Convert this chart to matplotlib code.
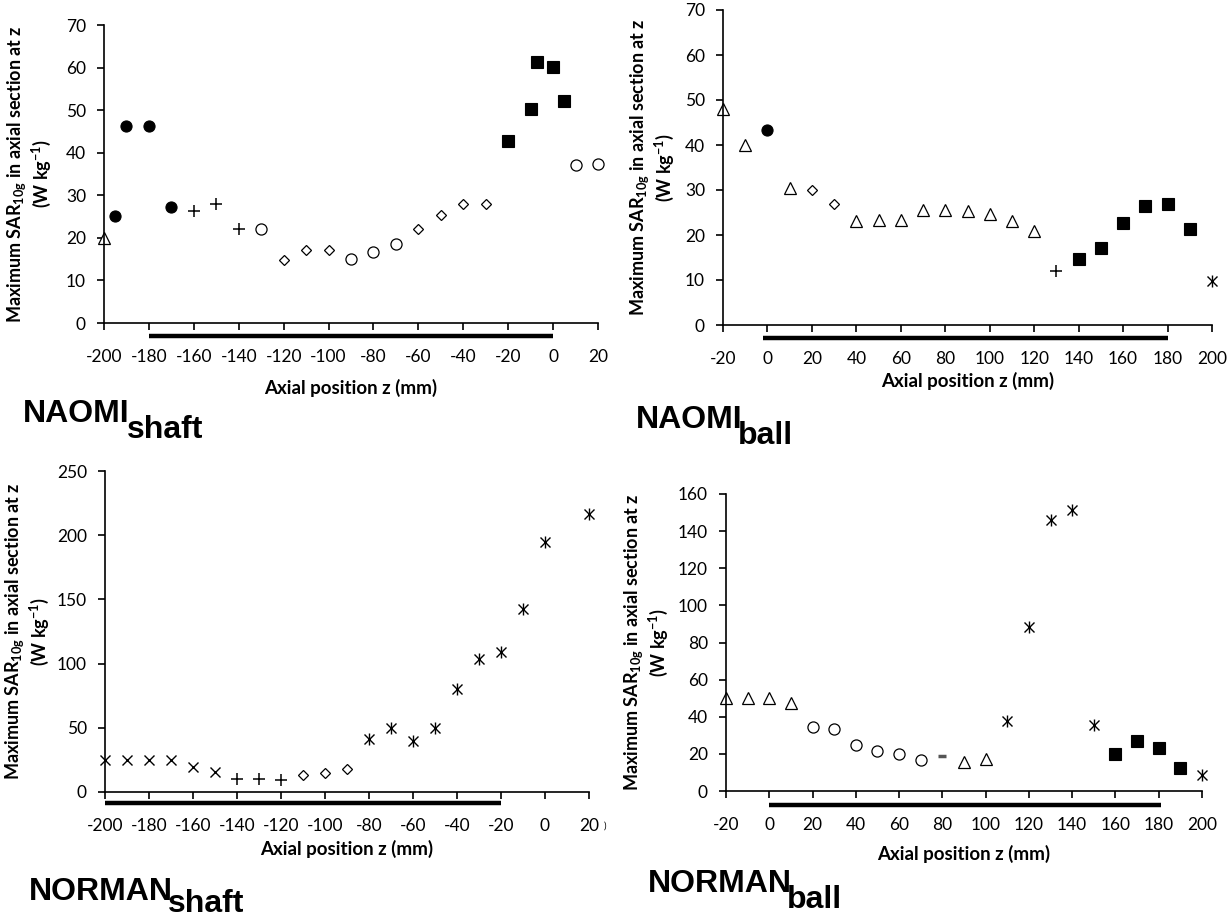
import numpy as np
import matplotlib
matplotlib.use('Agg')
import matplotlib.pyplot as plt
import matplotlib.transforms as mtransforms

plt.rcParams['font.family'] = ['Lato', 'DejaVu Sans']
plt.rcParams['axes.unicode_minus'] = False
plt.rcParams['mathtext.fontset'] = 'custom'
plt.rcParams['mathtext.bf'] = 'Lato:bold'
plt.rcParams['mathtext.rm'] = 'Lato'
plt.rcParams['mathtext.default'] = 'bf'

# ---- NAOMI shaft ----
ns_tri_x = [-200]
ns_tri_y = [20.0]
ns_fcirc_x = [-195, -190, -180, -170]
ns_fcirc_y = [25.2, 46.3, 46.3, 27.2]
ns_plus_x = [-160, -150, -140]
ns_plus_y = [26.4, 28.0, 22.1]
ns_ocirc_x = [-130, -90, -80, -70, 10, 20]
ns_ocirc_y = [22.1, 15.0, 16.6, 18.5, 37.0, 37.4]
ns_diam_x = [-120, -110, -100, -60, -50, -40, -30]
ns_diam_y = [14.8, 17.1, 17.1, 22.1, 25.3, 28.0, 28.0]
ns_sq_x = [-20, -10, -7, 0, 5]
ns_sq_y = [42.8, 50.3, 61.2, 60.1, 52.2]

# ---- NAOMI ball ----
nb_tri_x = [-20, -10, 10, 40, 50, 60, 70, 80, 90, 100, 110, 120]
nb_tri_y = [47.9, 39.9, 30.5, 23.1, 23.3, 23.3, 25.6, 25.6, 25.3, 24.7, 23.1, 21.0]
nb_fcirc_x = [0]
nb_fcirc_y = [43.3]
nb_diam_x = [20, 30]
nb_diam_y = [30.0, 27.0]
nb_plus_x = [130]
nb_plus_y = [12.1]
nb_sq_x = [140, 150, 160, 170, 180, 190]
nb_sq_y = [14.6, 17.1, 22.7, 26.4, 27.0, 21.4]
nb_ast_x = [200]
nb_ast_y = [9.8]

# ---- NORMAN shaft ----
rs_x_x = [-200, -190, -180, -170, -160, -150]
rs_x_y = [25.2, 25.2, 25.2, 24.7, 19.7, 15.6]
rs_plus_x = [-140, -130, -120]
rs_plus_y = [9.9, 9.9, 9.3]
rs_diam_x = [-110, -100, -90]
rs_diam_y = [13.5, 15.1, 17.7]
rs_ast_x = [-80, -70, -60, -50, -40, -30, -20, -10, 0, 20]
rs_ast_y = [41.3, 50.1, 40.0, 50.1, 80.2, 103.3, 109.0, 142.3, 194.7, 216.8]

# ---- NORMAN ball ----
rb_tri_x = [-20, -10, 0, 10, 90, 100]
rb_tri_y = [50.3, 50.3, 50.3, 47.6, 15.6, 17.1]
rb_ocirc_x = [20, 30, 40, 50, 60, 70]
rb_ocirc_y = [34.7, 33.4, 24.6, 21.4, 19.8, 16.7]
rb_dash_x = [80]
rb_dash_y = [18.9]
rb_ast_x = [110, 120, 130, 140, 150, 200]
rb_ast_y = [37.8, 88.4, 145.8, 151.4, 35.4, 8.6]
rb_sq_x = [160, 170, 180, 190]
rb_sq_y = [19.8, 27.1, 23.2, 12.2]

styles = {
    'fcirc': dict(marker='o', ms=8, mfc='black', mec='black', mew=0.8),
    'ocirc': dict(marker='o', ms=8, mfc='white', mec='black', mew=0.9),
    'tri': dict(marker='^', ms=8, mfc='white', mec='black', mew=0.9),
    'diam': dict(marker='D', ms=5.6, mfc='white', mec='black', mew=0.9),
    'plus': dict(marker='+', ms=8.5, mec='black', mew=1.1),
    'sq': dict(marker='s', ms=8, mfc='black', mec='black', mew=0.8),
    'x': dict(marker='x', ms=7.5, mec='black', mew=1.0),
    'dash': dict(marker='_', ms=6, mec='#555555', mew=2.5),
}

W, H = 1228, 917
fig = plt.figure(figsize=(W / 100, H / 100), dpi=100)


def px_rect(l, r, b, t):
    return [l / W, 1 - b / H, (r - l) / W, (b - t) / H]


def panel(rect, xlim, ylim, ystep, series, bar, bar_off, xlab_y, ylab_x):
    ax = fig.add_axes(rect)
    for xs, ys, st in series:
        if st == 'ast':
            ax.plot(xs, ys, ls='none', marker='x', ms=7.5, mec='black', mew=1.0, clip_on=False)
            ax.plot(xs, ys, ls='none', marker='|', ms=8.5, mec='black', mew=1.0, clip_on=False)
        else:
            ax.plot(xs, ys, ls='none', clip_on=False, **styles[st])
    ax.set_xlim(*xlim)
    ax.set_ylim(*ylim)
    ax.set_xticks(np.arange(xlim[0], xlim[1] + 1, 20))
    ax.set_yticks(np.arange(ylim[0], ylim[1] + 1, ystep))
    for s in ['top', 'right']:
        ax.spines[s].set_visible(False)
    for s in ['left', 'bottom']:
        ax.spines[s].set_linewidth(1.2)
    ax.tick_params(axis='x', direction='out', length=5, width=1.2, pad=14, labelsize=12.5)
    ax.tick_params(axis='y', direction='out', length=5, width=1.2, pad=8, labelsize=12.5)
    # thick bar below the x axis
    tr = mtransforms.offset_copy(ax.get_xaxis_transform(), fig=fig, y=-bar_off * 0.72, units='points')
    ax.plot(bar, [0, 0], color='black', lw=3.2, solid_capstyle='butt', transform=tr, clip_on=False)
    ax.set_xlabel('Axial position z (mm)', fontsize=13.5, fontweight='bold')
    ax.xaxis.set_label_coords(0.5, xlab_y)
    ax.set_ylabel('Maximum SAR$_{10g}$ in axial section at z\n(W kg$^{-1}$)', fontsize=13,
                  fontweight='bold', linespacing=1.1)
    ax.yaxis.set_label_coords(ylab_x, 0.5)
    return ax


panel(px_rect(104, 598, 323, 25), (-200, 20), (0, 70), 10,
      [(ns_tri_x, ns_tri_y, 'tri'), (ns_fcirc_x, ns_fcirc_y, 'fcirc'), (ns_plus_x, ns_plus_y, 'plus'),
       (ns_ocirc_x, ns_ocirc_y, 'ocirc'), (ns_diam_x, ns_diam_y, 'diam'), (ns_sq_x, ns_sq_y, 'sq')],
      [-180, 0], 13, -0.188, -0.104)

panel(px_rect(723, 1212, 325, 10), (-20, 200), (0, 70), 10,
      [(nb_tri_x, nb_tri_y, 'tri'), (nb_fcirc_x, nb_fcirc_y, 'fcirc'), (nb_diam_x, nb_diam_y, 'diam'),
       (nb_plus_x, nb_plus_y, 'plus'), (nb_sq_x, nb_sq_y, 'sq'), (nb_ast_x, nb_ast_y, 'ast')],
      [-2, 180], 13, -0.150, -0.096)

ax3 = panel(px_rect(105, 589, 792, 471), (-200, 20), (0, 250), 50,
            [(rs_x_x, rs_x_y, 'x'), (rs_plus_x, rs_plus_y, 'plus'), (rs_diam_x, rs_diam_y, 'diam'),
             (rs_ast_x, rs_ast_y, 'ast')],
            [-200, -20], 11, -0.150, -0.112)
ax3.text(1.03, -0.105, ')', transform=ax3.transAxes, fontsize=7, ha='left', va='center')

panel(px_rect(726, 1202, 791, 494), (-20, 200), (0, 160), 20,
      [(rb_tri_x, rb_tri_y, 'tri'), (rb_ocirc_x, rb_ocirc_y, 'ocirc'), (rb_dash_x, rb_dash_y, 'dash'),
       (rb_ast_x, rb_ast_y, 'ast'), (rb_sq_x, rb_sq_y, 'sq')],
      [0, 181], 14, -0.182, -0.117)

# panel names
names = [('NAOMI', 'shaft', 23, 422, 127, 438),
         ('NAOMI', 'ball', 636, 428, 738, 444),
         ('NORMAN', 'shaft', 29, 900, 168, 912),
         ('NORMAN', 'ball', 648, 892, 787, 908)]
for main, sub, x0, y0, x1, y1 in names:
    fig.text(x0 / W, 1 - y0 / H, main, fontsize=23, fontweight='bold', family='Liberation Sans',
             ha='left', va='baseline')
    fig.text(x1 / W, 1 - y1 / H, sub, fontsize=23, fontweight='bold', family='Liberation Sans',
             ha='left', va='baseline')

fig.savefig('out.png', dpi=100)
